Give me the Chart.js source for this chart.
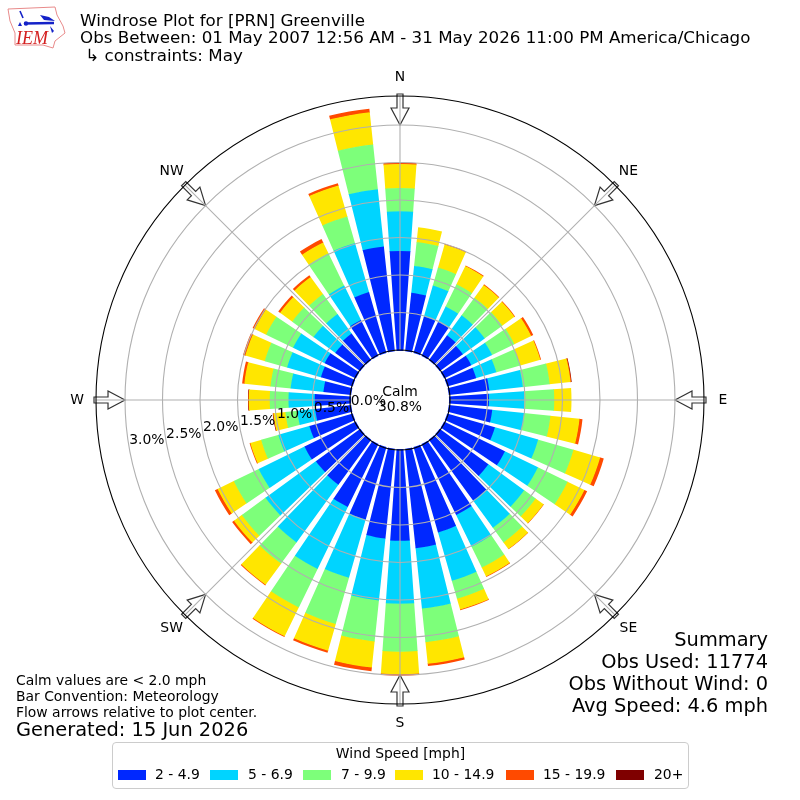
<!DOCTYPE html>
<html>
<head>
<meta charset="utf-8">
<title>Windrose Plot for [PRN] Greenville</title>
<script src="https://cdn.jsdelivr.net/npm/chart.js@4"></script>
<style>
	html, body { margin: 0; padding: 0; background: #fff; }
	body { width: 800px; height: 800px; position: relative; overflow: hidden; font-family: "DejaVu Sans", sans-serif; color: #000; }
	canvas { position: absolute; left: 0; top: 0; }
	.txt { position: absolute; white-space: pre; line-height: 18px; }
	.title { left: 80px; font-size: 16.7px; }
	.note { left: 16px; font-size: 13.9px; }
	.sum { right: 32px; font-size: 19.4px; line-height: 22px; }
	#logo { position: absolute; left: 6px; top: 6px; }
	#legend { position: absolute; left: 112px; top: 742px; width: 575px; height: 45px; border: 1px solid #ccc; border-radius: 4px; font-size: 13.9px; }
	#legend .head { position: absolute; left: 0; right: 0; top: 2px; text-align: center; }
	#legend .swatch { position: absolute; top: 27px; width: 28px; height: 10px; }
	#legend .lab { position: absolute; top: 23px; white-space: pre; }
</style>
</head>
<body>
<canvas id="rose" width="800" height="800"></canvas>

<svg id="logo" width="62" height="50" viewBox="0 0 62 50">
	<path d="M2 3 L49 1 L51 9 L57 20 L59 27 L49 35 L47 42 L37 39 L9 39 L9 27 L4 15 Z" fill="none" stroke="#e88a8a" stroke-width="1"/>
	<path d="M14 5 L17 12" stroke="#1422c8" stroke-width="1.6" fill="none"/>
	<path d="M18 17.5 L48 17" stroke="#1422c8" stroke-width="2.4" fill="none"/>
	<path d="M34 9 L43 11 L49 15 L38 14 Z M44 20 L46 27 L48 25 Z M12 20 L16 20 L14 16 Z" fill="#1422c8"/>
	<circle cx="20" cy="17.5" r="2.2" fill="#1422c8"/>
	<text x="10" y="38" font-family="Liberation Serif" font-style="italic" font-size="18" fill="#d42020">IEM</text>
</svg>

<div class="txt title" style="top:11px">Windrose Plot for [PRN] Greenville</div>
<div class="txt title" style="top:28px">Obs Between: 01 May 2007 12:56 AM - 31 May 2026 11:00 PM America/Chicago</div>
<div class="txt title" style="top:46px"> ↳ constraints: May</div>

<div class="txt note" style="top:671px">Calm values are &lt; 2.0 mph</div>
<div class="txt note" style="top:687px">Bar Convention: Meteorology</div>
<div class="txt note" style="top:703px">Flow arrows relative to plot center.</div>
<div class="txt note" style="top:720px; font-size:19.4px; line-height:20px">Generated: 15 Jun 2026</div>

<div class="txt sum" style="top:629px">Summary</div>
<div class="txt sum" style="top:651px">Obs Used: 11774</div>
<div class="txt sum" style="top:673px">Obs Without Wind: 0</div>
<div class="txt sum" style="top:695px">Avg Speed: 4.6 mph</div>

<div id="legend"><div class="head">Wind Speed [mph]</div></div>

<script>
// percent of obs per speed bin, one value per direction (0, 10, ... 350 degrees)
const directions = [0, 10, 20, 30, 40, 50, 60, 70, 80, 90, 100, 110, 120, 130, 140, 150, 160, 170, 180, 190, 200, 210, 220, 230, 240, 250, 260, 270, 280, 290, 300, 310, 320, 330, 340, 350];
const speed2to5 = [1.32, .77, .49, .49, .40, .37, .39, .39, .53, .52, .57, .65, .89, .79, .99, 1.04, 1.17, 1.32, 1.21, 1.19, .99, .92, .73, .72, .75, .59, .47, .47, .36, .43, .45, .40, .43, .52, .83, 1.39];
const speed5to7 = [.53, .36, .43, .23, .33, .36, .31, .28, .45, .47, .43, .60, .49, .59, .45, .47, .67, .81, .84, .83, .81, .92, .95, .83, .68, .43, .24, .35, .44, .47, .47, .36, .32, .51, .68, .77];
const speed7to10 = [.31, .32, .25, .33, .29, .29, .33, .33, .36, .40, .35, .49, .44, .19, .24, .31, .25, .45, .64, .55, .64, .57, .35, .39, .37, .24, .16, .25, .27, .31, .40, .35, .33, .48, .37, .60];
const speed10to15 = [.32, .20, .32, .27, .21, .20, .25, .28, .28, .23, .39, .37, .25, .13, .11, .13, .15, .29, .30, .35, .37, .43, .35, .13, .24, .15, .16, .28, .35, .27, .17, .20, .28, .16, .43, .43];
const speed15to20 = [.02, 0, .01, .01, .01, .01, .03, .01, .01, 0, .04, .05, .04, .005, .005, .01, .01, .03, .02, .05, .03, .01, .01, .03, .04, .01, .005, .005, .03, .03, .03, .03, .03, .05, .03, .05];
const speed20plus = [0, 0, 0, 0, 0, 0, 0, 0, .005, 0, 0, 0, 0, 0, 0, 0, 0, 0, 0, 0, 0, 0, 0, 0, 0, 0, .005, .005, 0, 0, 0, 0, 0, 0, 0, 0];

const speedBins = [speed2to5, speed5to7, speed7to10, speed10to15, speed15to20, speed20plus];
const speedLabels = ["2 - 4.9", "5 - 6.9", "7 - 9.9", "10 - 14.9", "15 - 19.9", "20+"];
const speedColors = ["#0028ff", "#00d4ff", "#7dff7a", "#ffe600", "#ff4a00", "#7f0000"];

const radialTicks = [0, 0.5, 1, 1.5, 2, 2.5, 3];
const compass = ["N", "NE", "E", "SE", "S", "SW", "W", "NW"];

// the scale runs below zero to leave the calm hole in the middle
const rMin = -0.667;
const rMax = 3.387;
const barAngle = 8;
const gapAngle = 2;
const gridColor = "#b0b0b0";
const tickFont = '13.9px "DejaVu Sans"';

// every direction gets a bar slice and then an empty gap slice
function buildStack(upTo) {
	const out = [];
	directions.forEach((d, i) => {
		let sum = 0;
		for (let b = 0; b <= upTo; b++) sum += speedBins[b][i];
		out.push(sum, rMin);
	});
	return out;
}

function polar(scale, deg, r) {
	const a = deg * Math.PI / 180;
	return {x: scale.xCenter + r * Math.sin(a), y: scale.yCenter - r * Math.cos(a)};
}

function drawArrow(ctx, scale, deg) {
	const tip = scale.getDistanceFromCenterForValue(3);
	ctx.save();
	ctx.translate(scale.xCenter, scale.yCenter);
	ctx.rotate(deg * Math.PI / 180);
	ctx.beginPath();
	ctx.moveTo(0, -tip);
	ctx.lineTo(9, -tip - 17);
	ctx.lineTo(3, -tip - 17);
	ctx.lineTo(3, -tip - 31);
	ctx.lineTo(-3, -tip - 31);
	ctx.lineTo(-3, -tip - 17);
	ctx.lineTo(-9, -tip - 17);
	ctx.closePath();
	ctx.fillStyle = "#fff";
	ctx.fill();
	ctx.strokeStyle = "#333";
	ctx.lineWidth = 1.2;
	ctx.stroke();
	ctx.restore();
}

const rosePlugin = {
	id: "rose",
	// polarArea arcs all start at the center, cut each one to sit on the bin below it
	afterDatasetsUpdate(chart) {
		const scale = chart.scales.r;
		speedBins.forEach((bin, b) => {
			const arcs = chart.getDatasetMeta(b).data;
			bin.forEach((v, i) => {
				const arc = arcs[i * 2];
				if (v === 0) {
					arc.outerRadius = 0;
					arc.innerRadius = 0;
				} else if (b === 0) {
					arc.innerRadius = scale.getDistanceFromCenterForValue(0) - 1;
				} else {
					arc.innerRadius = arc.outerRadius - v * scale.drawingArea / (rMax - rMin) - 0.6;
				}
			});
		});
	},
	afterDatasetsDraw(chart) {
		const ctx = chart.ctx;
		const scale = chart.scales.r;
		const hole = scale.getDistanceFromCenterForValue(0);

		ctx.save();
		compass.forEach((c, i) => drawArrow(ctx, scale, i * 45));

		// angle lines, on top of the bars like the rings
		ctx.strokeStyle = gridColor;
		ctx.lineWidth = 1.1;
		compass.forEach((c, i) => {
			const a = polar(scale, i * 45, hole);
			const b = polar(scale, i * 45, scale.drawingArea);
			ctx.beginPath();
			ctx.moveTo(a.x, a.y);
			ctx.lineTo(b.x, b.y);
			ctx.stroke();
		});
		ctx.restore();
	},
	afterDraw(chart) {
		const ctx = chart.ctx;
		const scale = chart.scales.r;
		ctx.save();
		ctx.font = tickFont;
		ctx.fillStyle = "#000";
		ctx.textBaseline = "middle";

		ctx.textAlign = "center";
		compass.forEach((c, i) => {
			const p = polar(scale, i * 45, scale.drawingArea + 19);
			ctx.fillText(c, p.x, p.y);
		});
		ctx.fillText("Calm", scale.xCenter, scale.yCenter - 8);
		ctx.fillText("30.8%", scale.xCenter, scale.yCenter + 7);

		ctx.textAlign = "left";
		radialTicks.forEach(v => {
			const p = polar(scale, 260, scale.getDistanceFromCenterForValue(v));
			ctx.fillText(v.toFixed(1) + "%", p.x, p.y - 7);
		});
		ctx.restore();
	}
};

new Chart(document.getElementById("rose"), {
	type: "polarArea",
	data: {
		labels: directions.flatMap(d => [d + "", ""]),
		datasets: speedLabels.map((label, i) => ({
			label: label,
			data: buildStack(i),
			backgroundColor: speedColors[i],
			borderWidth: 0,
			angle: c => c.dataIndex % 2 === 0 ? barAngle : gapAngle
		}))
	},
	options: {
		responsive: false,
		animation: false,
		devicePixelRatio: 1,
		layout: {padding: 96},
		plugins: {legend: {display: false}, tooltip: {enabled: false}},
		scales: {
			r: {
				min: rMin,
				max: rMax,
				startAngle: -barAngle / 2,
				ticks: {display: false},
				afterBuildTicks: s => { s.ticks = radialTicks.concat(rMax).map(v => ({value: v})); },
				grid: {
					z: 1,
					lineWidth: 1.1,
					color: c => (c.tick.value === 0 || c.tick.value === rMax) ? "#000" : gridColor
				}
			}
		}
	},
	plugins: [rosePlugin]
});

// legend box
const legendBox = document.getElementById("legend");
const swatchLeft = [5, 97, 190, 282, 393, 503];
const labelLeft = [42, 135, 228, 319, 430, 541];
speedLabels.forEach((label, i) => {
	const s = document.createElement("div");
	s.className = "swatch";
	s.style.left = swatchLeft[i] + "px";
	s.style.background = speedColors[i];
	legendBox.appendChild(s);
	const t = document.createElement("div");
	t.className = "lab";
	t.style.left = labelLeft[i] + "px";
	t.textContent = label;
	legendBox.appendChild(t);
});
</script>
</body>
</html>
